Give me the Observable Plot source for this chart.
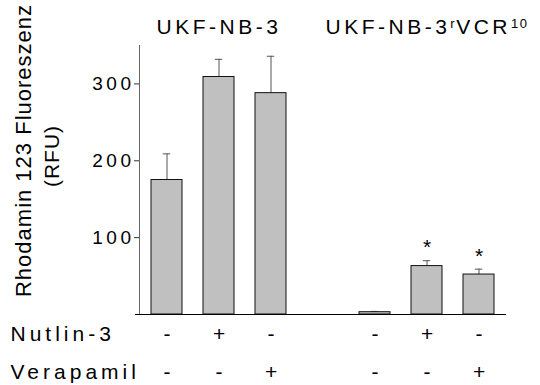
<!DOCTYPE html>
<html>
<head>
<meta charset="utf-8">
<script src="https://cdn.jsdelivr.net/npm/d3@7"></script>
<script src="https://cdn.jsdelivr.net/npm/@observablehq/plot@0.6"></script>
<style>
  html, body { margin: 0; padding: 0; background: #fff; }
  #chart svg { font-family: "Liberation Sans", Arial, sans-serif; }
</style>
</head>
<body>
<div id="chart"></div>
<script>
// ---- data ----
const categories = ["A1", "A2", "A3", "gap", "B1", "B2", "B3"];
const barCategories = ["A1", "A2", "A3", "B1", "B2", "B3"];
const means = [175, 309, 288, 3, 63, 52];
const errors = [34, 23, 48, 1, 7, 7];
const significant = [false, false, false, false, true, true];
const nutlin = ["-", "+", "-", "-", "+", "-"];
const verapamil = ["-", "-", "+", "-", "-", "+"];
const rowLabels = ["Nutlin-3", "Verapamil"];
const groupTitles = ["UKF-NB-3", "UKF-NB-3{r}VCR{10}"];
const groupTitleAt = ["A2", "B2"];
const yTicks = [100, 200, 300];
const yDomain = [0, 350];
const yLabelLines = ["Rhodamin 123 Fluoreszenz", "(RFU)"];

const bars = barCategories.map((c, i) => ({cat: c, mean: means[i], err: errors[i], top: means[i] + errors[i], sig: significant[i]}));
const plainTitle = s => s.replace(/[{}]/g, "");

const chart = Plot.plot({
  width: 540,
  height: 385,
  marginLeft: 139,
  marginRight: 34,
  marginTop: 45,
  marginBottom: 71,
  style: {fontFamily: "Liberation Sans, Arial, sans-serif", color: "#000", background: "#fff"},
  x: {domain: categories, paddingInner: 0.4, paddingOuter: 0.2, axis: null},
  y: {domain: yDomain, axis: null},
  marks: [
    Plot.frame({anchor: "left", stroke: "#666"}),
    Plot.axisY({ticks: yTicks, tickSize: 5, tickPadding: 0, fontSize: 19, label: null, stroke: "#333"}),
    Plot.ruleX(bars, {x: "cat", y1: "mean", y2: "top", stroke: "#555", strokeWidth: 1}),
    Plot.tickY(bars, {x: "cat", y: "top", insetLeft: 11.75, insetRight: 11.75, stroke: "#555", strokeWidth: 1}),
    Plot.barY(bars, {x: "cat", y: "mean", fill: "#c0c0c0", stroke: "#111", strokeWidth: 1}),
    Plot.ruleY([0], {insetLeft: -4, stroke: "#000", strokeWidth: 1}),
    Plot.text(bars.filter(d => d.sig), {x: "cat", y: "top", text: () => "*", dy: -13, fontSize: 21}),
    Plot.text(groupTitles, {x: (d, i) => groupTitleAt[i], text: plainTitle, frameAnchor: "top", dy: -26, fontSize: 21}),
    Plot.text(barCategories, {x: d => d, text: (d, i) => nutlin[i], frameAnchor: "bottom", dy: 26, fontSize: 21}),
    Plot.text(barCategories, {x: d => d, text: (d, i) => verapamil[i], frameAnchor: "bottom", dy: 64, fontSize: 21}),
    Plot.text([rowLabels[0]], {frameAnchor: "bottom-left", textAnchor: "start", dx: -129, dy: 26, fontSize: 21}),
    Plot.text([rowLabels[1]], {frameAnchor: "bottom-left", textAnchor: "start", dx: -129, dy: 64, fontSize: 21}),
    Plot.text([yLabelLines[0]], {frameAnchor: "left", textAnchor: "middle", rotate: -90, dx: -116, dy: -29.5, fontSize: 22}),
    Plot.text([yLabelLines[1]], {frameAnchor: "left", textAnchor: "middle", rotate: -90, dx: -87, dy: -24, fontSize: 21})
  ]
});

const svg = d3.select(chart);
// letter spacing like the reference's spaced-out typesetting
const spacing = (pred, ls) => svg.selectAll("text").filter(function() { return pred(this.textContent); }).attr("letter-spacing", ls + "px");
spacing(t => yTicks.map(String).includes(t), 3.5);
spacing(t => rowLabels.includes(t), 4);
spacing(t => groupTitles.map(plainTitle).includes(t), 3.5);
spacing(t => yLabelLines.includes(t), 1);

// rebuild superscripts in group titles
groupTitles.forEach(t => {
  if (!t.includes("{")) return;
  const plain = plainTitle(t);
  svg.selectAll("text").filter(function() { return this.textContent === plain; }).each(function() {
    const el = d3.select(this);
    el.text(null);
    const parts = t.split(/(\{[^}]*\})/).filter(p => p.length);
    let raised = false;
    parts.forEach(p => {
      const sup = p.startsWith("{");
      const s = el.append("tspan").text(sup ? p.slice(1, -1) : p);
      if (sup) {
        s.attr("font-size", 13).attr("letter-spacing", "1.5px");
        if (!raised) { s.attr("dy", "-0.5em"); raised = true; }
      } else if (raised) {
        s.attr("dy", "0.31em");
        raised = false;
      }
    });
  });
});

document.getElementById("chart").appendChild(chart);
</script>
</body>
</html>
